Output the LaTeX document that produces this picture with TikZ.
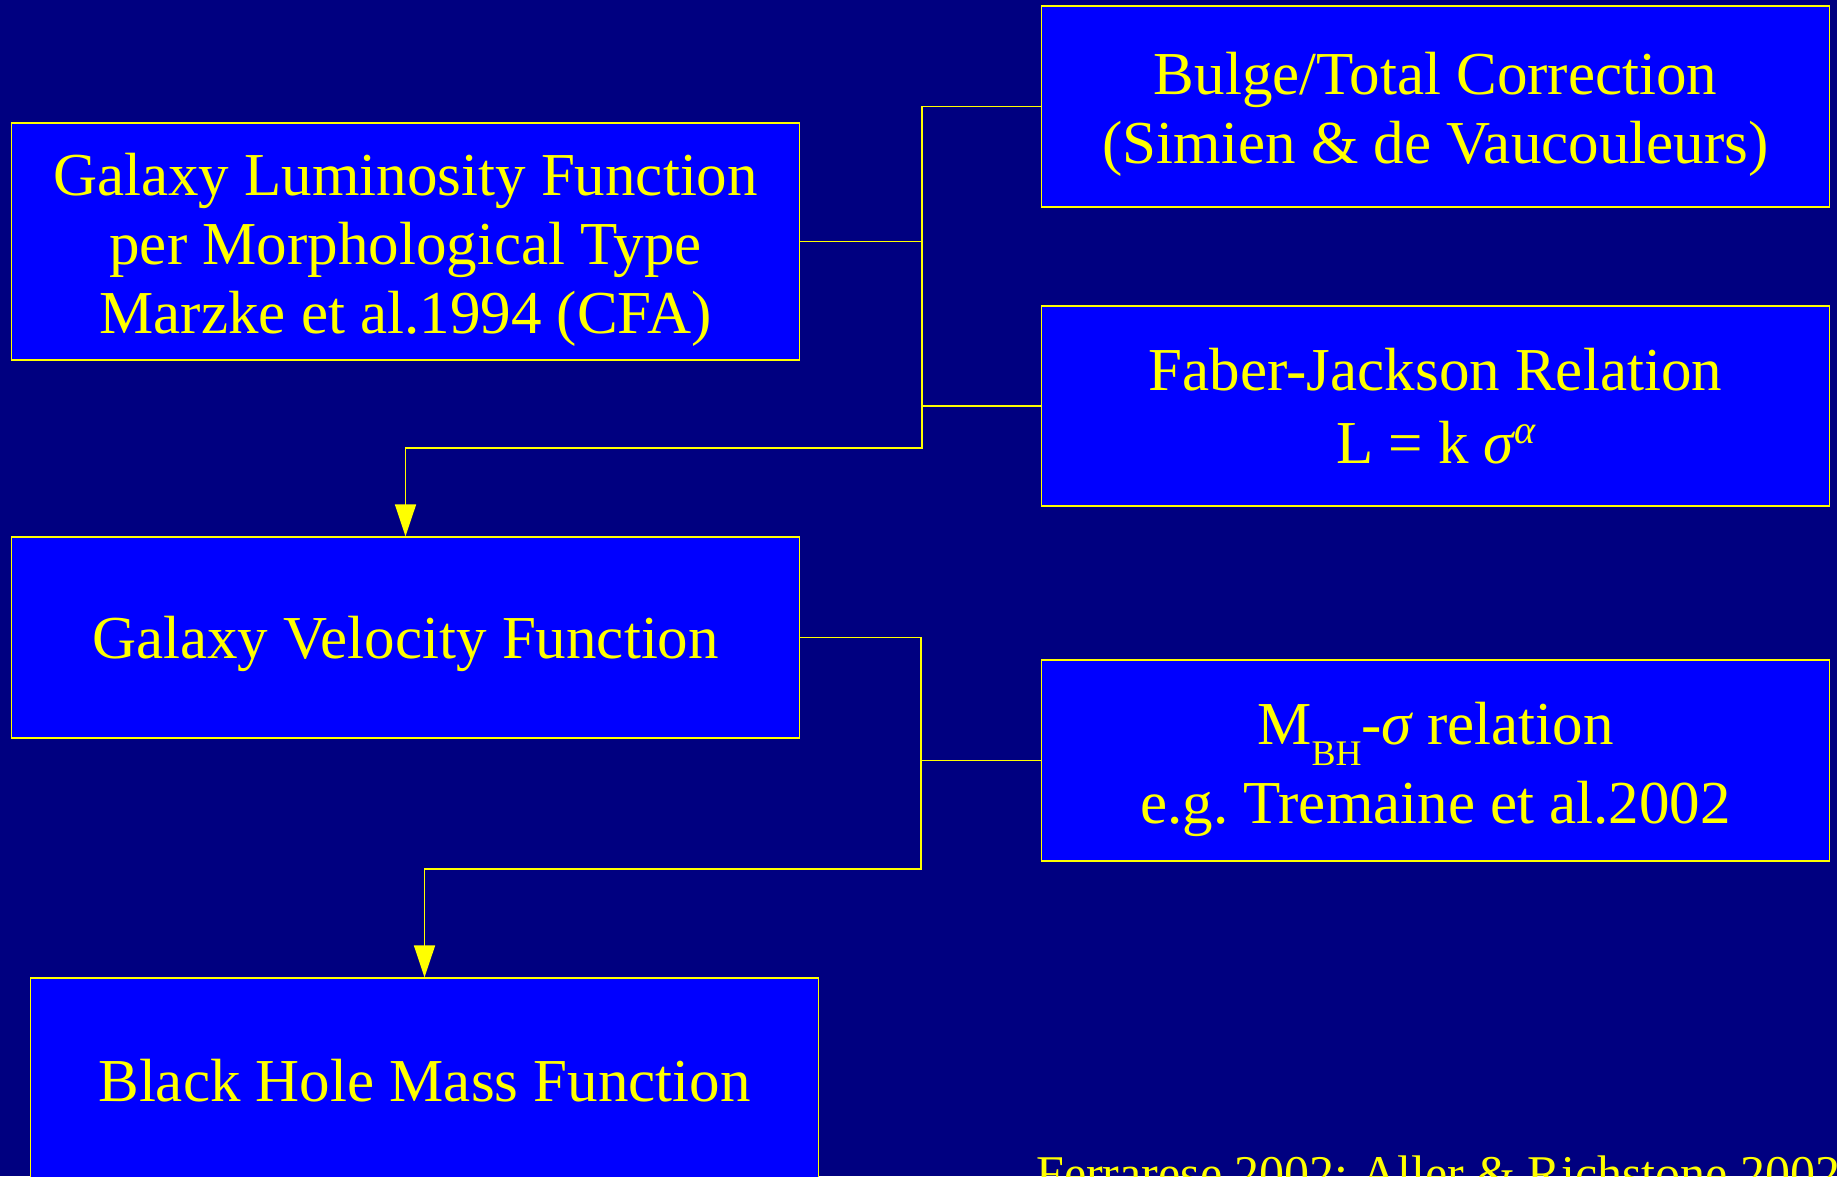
\documentclass[tikz,border=0pt]{standalone}
\usepackage{fontspec}
\setmainfont{Liberation Serif}
\usetikzlibrary{arrows.meta}
\definecolor{bg}{HTML}{000080}
\definecolor{boxblue}{HTML}{0000FF}
\definecolor{yel}{HTML}{FFFF00}
\newcommand{\greek}[1]{{\itshape #1}}
\begin{document}
\begin{tikzpicture}[x=1pt,y=-1pt,
  box/.style={draw=yel, line width=1.2pt, fill=boxblue, inner sep=0pt, minimum width=788pt},
  boxtext/.style={text=yel, align=center, inner sep=0pt, font=\fontsize{61}{69}\selectfont},
  link/.style={draw=yel, line width=1.5pt},
  arr/.style={link, -{Triangle[length=32pt,width=21pt,fill=yel]}}]
\clip (0,0) rectangle (1837,1176);
\fill[bg] (0,0) rectangle (1837,1176);
% boxes
\node[box, minimum height=237pt] (glf) at (405.5,241.5) {};
\node[box, minimum height=201pt] (bulge) at (1435.5,106.5) {};
\node[box, minimum height=200pt] (fj) at (1435.5,406) {};
\node[box, minimum height=201pt] (gvf) at (405.5,637.5) {};
\node[box, minimum height=201pt] (mbh) at (1435.5,760.5) {};
\node[box, minimum height=205pt] (bhmf) at (424.5,1080.5) {};
% texts
\node[boxtext] (glf-t) at ([yshift=-8pt]glf.center)
  {Galaxy Luminosity Function\\per Morphological Type\\Marzke et al.1994 (CFA)};
\node[boxtext] (bulge-t) at ([yshift=-8pt]bulge.center)
  {Bulge/Total Correction\\(Simien \& de Vaucouleurs)};
\node[boxtext] (fj-t) at (fj.center)
  {Faber-Jackson Relation\\[4pt]L = k \greek{σ}\raisebox{20pt}{\fontsize{40}{40}\selectfont\itshape α}};
\node[boxtext] (gvf-t) at ([yshift=-6pt]gvf.center)
  {Galaxy Velocity Function};
\node[boxtext] (mbh-t) at ([yshift=-9pt]mbh.center)
  {M\raisebox{-21pt}{\fontsize{36}{36}\selectfont BH}-\greek{σ} relation\\[10pt]e.g.\ Tremaine et al.2002};
\node[boxtext] (bhmf-t) at (bhmf.center)
  {Black Hole Mass Function};
\node[anchor=base west, text=yel, inner sep=0pt, font=\fontsize{50}{60}\selectfont] (cite) at (1036,1190)
  {Ferrarese 2002; Aller \& Richstone 2002};
% junctions
\coordinate (ja) at (922,241.5);
\coordinate (jb) at (922,448);
\coordinate (jc) at (921,760.5);
\coordinate (jd) at (921,869);
% connectors
\draw[link] (glf.east) -- (ja);
\draw[link] (fj.west) -- (fj.west -| ja);
\draw[arr] (bulge.west) -| (jb) -| (gvf.north);
\draw[link] (gvf.east) -| (jc);
\draw[arr] (mbh.west) -| (jd) -| (bhmf.north);
\end{tikzpicture}
\end{document}
